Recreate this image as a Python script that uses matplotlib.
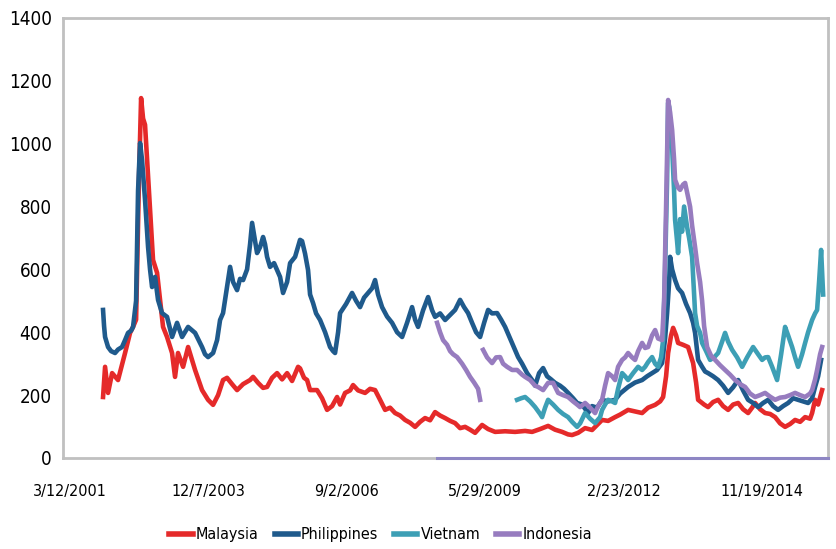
import numpy as np
import pandas as pd
import matplotlib
matplotlib.use("Agg")
import matplotlib.pyplot as plt

plt.rcParams['font.family'] = ['DejaVu Sans']
plt.rcParams['font.stretch'] = 'condensed'

# dates as decimal years
mal_year = [2001.854, 2001.894, 2001.953, 2002.033, 2002.150, 2002.289, 2002.388, 2002.447, 2002.507, 2002.566,
            2002.606, 2002.645, 2002.684, 2002.724, 2002.783, 2002.842, 2002.922, 2002.981, 2003.040, 2003.119,
            2003.218, 2003.277, 2003.336, 2003.436, 2003.535, 2003.673, 2003.811, 2003.930, 2004.029, 2004.128,
            2004.226, 2004.305, 2004.404, 2004.503, 2004.622, 2004.760, 2004.820, 2004.918, 2005.017, 2005.096,
            2005.195, 2005.294, 2005.393, 2005.492, 2005.590, 2005.709, 2005.748, 2005.827, 2005.887, 2005.946,
            2006.084, 2006.183, 2006.282, 2006.381, 2006.480, 2006.539, 2006.638, 2006.737, 2006.796, 2006.895,
            2007.033, 2007.132, 2007.231, 2007.330, 2007.429, 2007.527, 2007.626, 2007.725, 2007.824, 2007.923,
            2008.022, 2008.121, 2008.219, 2008.318, 2008.417, 2008.516, 2008.615, 2008.714, 2008.812, 2008.911,
            2009.010, 2009.109, 2009.208, 2009.346, 2009.465, 2009.603, 2009.801, 2009.998, 2010.196, 2010.335,
            2010.493, 2010.651, 2010.789, 2010.928, 2011.046, 2011.125, 2011.244, 2011.382, 2011.520, 2011.619,
            2011.718, 2011.837, 2011.975, 2012.074, 2012.232, 2012.370, 2012.509, 2012.627, 2012.766, 2012.865,
            2012.924, 2012.983, 2013.023, 2013.082, 2013.122, 2013.181, 2013.220, 2013.319, 2013.418, 2013.517,
            2013.576, 2013.616, 2013.734, 2013.813, 2013.912, 2014.011, 2014.110, 2014.209, 2014.308, 2014.407,
            2014.505, 2014.604, 2014.683, 2014.742, 2014.841, 2014.940, 2015.039, 2015.138, 2015.237, 2015.335,
            2015.434, 2015.533, 2015.632, 2015.731, 2015.829, 2015.869, 2015.928, 2015.988, 2016.067]
mal_val = [194, 290, 207, 270, 248, 334, 398, 417, 440, 900,
           1145, 1080, 1060, 950, 789, 630, 589, 503, 417, 385,
           334, 258, 334, 290, 353, 280, 216, 185, 169, 200,
           248, 255, 235, 216, 235, 248, 258, 239, 223, 226,
           255, 270, 250, 270, 245, 290, 285, 255, 248, 216,
           216, 190, 153, 165, 194, 170, 207, 215, 232, 215,
           207, 220, 216, 185, 153, 160, 143, 135, 121, 112,
           99, 115, 127, 120, 146, 135, 127, 118, 111, 95,
           99, 90, 80, 105, 92, 83, 85, 83, 86, 83,
           92, 102, 90, 83, 75, 73, 80, 95, 89, 105,
           121, 118, 130, 138, 153, 148, 143, 160, 169, 180,
           194, 260, 334, 390, 414, 390, 366, 360, 353, 302,
           240, 185, 170, 162, 178, 185, 165, 153, 170, 175,
           155, 143, 160, 175, 155, 143, 140, 130, 110, 99,
           108, 121, 115, 130, 125, 143, 185, 170, 216]

phl_year = [2001.854, 2001.874, 2001.894, 2001.953, 2002.013, 2002.091, 2002.150, 2002.229, 2002.289, 2002.348,
            2002.408, 2002.447, 2002.507, 2002.546, 2002.586, 2002.625, 2002.684, 2002.744, 2002.783, 2002.823,
            2002.882, 2002.941, 2003.020, 2003.119, 2003.218, 2003.317, 2003.416, 2003.535, 2003.673, 2003.811,
            2003.870, 2003.930, 2004.029, 2004.108, 2004.167, 2004.226, 2004.305, 2004.365, 2004.424, 2004.503,
            2004.562, 2004.622, 2004.701, 2004.760, 2004.800, 2004.859, 2004.898, 2004.958, 2005.017, 2005.056,
            2005.096, 2005.155, 2005.234, 2005.294, 2005.353, 2005.412, 2005.492, 2005.551, 2005.650, 2005.748,
            2005.788, 2005.847, 2005.906, 2005.946, 2006.005, 2006.065, 2006.144, 2006.243, 2006.341, 2006.401,
            2006.440, 2006.500, 2006.539, 2006.658, 2006.776, 2006.856, 2006.934, 2007.013, 2007.093, 2007.172,
            2007.231, 2007.290, 2007.369, 2007.468, 2007.567, 2007.666, 2007.765, 2007.863, 2007.962, 2008.022,
            2008.081, 2008.180, 2008.279, 2008.358, 2008.417, 2008.516, 2008.615, 2008.714, 2008.812, 2008.872,
            2008.911, 2008.990, 2009.069, 2009.148, 2009.228, 2009.307, 2009.386, 2009.465, 2009.544, 2009.643,
            2009.722, 2009.801, 2009.900, 2009.979, 2010.058, 2010.137, 2010.236, 2010.335, 2010.394, 2010.473,
            2010.552, 2010.631, 2010.710, 2010.789, 2010.888, 2010.967, 2011.046, 2011.145, 2011.224, 2011.323,
            2011.441, 2011.520, 2011.619, 2011.718, 2011.837, 2011.975, 2012.074, 2012.232, 2012.370, 2012.509,
            2012.608, 2012.706, 2012.805, 2012.904, 2012.963, 2013.003, 2013.043, 2013.062, 2013.102, 2013.161,
            2013.220, 2013.299, 2013.378, 2013.458, 2013.517, 2013.556, 2013.616, 2013.695, 2013.754, 2013.813,
            2013.912, 2014.011, 2014.110, 2014.209, 2014.308, 2014.407, 2014.505, 2014.604, 2014.703, 2014.802,
            2014.901, 2015.000, 2015.098, 2015.197, 2015.296, 2015.395, 2015.494, 2015.592, 2015.691, 2015.790,
            2015.869, 2015.928, 2015.988, 2016.047]
phl_val = [471, 420, 385, 353, 340, 334, 345, 353, 375, 398,
           405, 417, 500, 850, 1002, 948, 821, 671, 600, 544,
           576, 503, 461, 449, 385, 430, 385, 417, 398, 353,
           330, 321, 334, 375, 439, 461, 544, 608, 560, 534,
           570, 566, 600, 680, 748, 690, 652, 671, 703, 680,
           640, 608, 620, 598, 576, 525, 560, 620, 640, 694,
           690, 650, 598, 520, 493, 460, 439, 400, 353, 340,
           334, 400, 461, 490, 525, 500, 480, 510, 525, 540,
           566, 520, 480, 450, 430, 400, 385, 430, 480, 440,
           417, 470, 512, 470, 449, 460, 439, 455, 471, 490,
           503, 480, 461, 430, 400, 385, 430, 471, 460, 461,
           440, 417, 380, 350, 321, 300, 270, 248, 230, 270,
           286, 260, 250, 239, 230, 220, 207, 190, 175, 170,
           143, 165, 160, 185, 180, 185, 205, 226, 240, 248,
           260, 270, 280, 302, 380, 461, 560, 640, 600, 566,
           540, 525, 490, 461, 430, 398, 312, 290, 275, 270,
           260, 248, 230, 207, 225, 248, 215, 185, 175, 162,
           175, 185, 165, 153, 165, 175, 190, 185, 180, 175,
           190, 226, 260, 312]

vnm_year = [2010.038, 2010.117, 2010.196, 2010.295, 2010.394, 2010.493, 2010.532, 2010.591, 2010.651, 2010.750,
            2010.849, 2010.947, 2011.046, 2011.125, 2011.224, 2011.283, 2011.382, 2011.481, 2011.580, 2011.679,
            2011.718, 2011.777, 2011.837, 2011.916, 2011.975, 2012.034, 2012.114, 2012.173, 2012.232, 2012.331,
            2012.430, 2012.509, 2012.568, 2012.627, 2012.706, 2012.766, 2012.825, 2012.884, 2012.924, 2012.963,
            2013.003, 2013.023, 2013.043, 2013.062, 2013.102, 2013.141, 2013.161, 2013.200, 2013.220, 2013.260,
            2013.299, 2013.339, 2013.398, 2013.438, 2013.497, 2013.537, 2013.556, 2013.596, 2013.655, 2013.695,
            2013.774, 2013.853, 2013.932, 2014.011, 2014.090, 2014.149, 2014.209, 2014.288, 2014.387, 2014.486,
            2014.584, 2014.703, 2014.802, 2014.881, 2014.940, 2015.000, 2015.079, 2015.177, 2015.257, 2015.335,
            2015.395, 2015.474, 2015.533, 2015.592, 2015.671, 2015.731, 2015.790, 2015.869, 2015.928, 2015.968,
            2016.007, 2016.047, 2016.087]
vnm_val = [185, 190, 194, 180, 162, 140, 130, 160, 185, 170,
           153, 140, 130, 115, 99, 110, 143, 125, 111, 130,
           153, 170, 185, 180, 175, 220, 270, 260, 248, 270,
           290, 280, 290, 305, 321, 300, 290, 320, 375, 600,
           885, 1130, 1117, 1050, 989, 850, 757, 690, 652, 760,
           720, 800, 735, 700, 640, 520, 461, 420, 398, 366,
           340, 312, 320, 334, 370, 398, 370, 344, 320, 290,
           320, 353, 330, 312, 320, 321, 290, 248, 330, 417,
           390, 353, 320, 290, 330, 366, 400, 439, 460, 471,
           560, 662, 520]

# NaN marks the short gap in the Indonesia series
idn_year = [2008.457, 2008.516, 2008.575, 2008.654, 2008.714, 2008.773, 2008.852, 2008.951, 2009.030, 2009.109,
            2009.188, 2009.267, 2009.307, 2009.337, 2009.366, 2009.445, 2009.544, 2009.623, 2009.702, 2009.761,
            2009.840, 2009.939, 2010.038, 2010.137, 2010.196, 2010.295, 2010.394, 2010.453, 2010.552, 2010.651,
            2010.750, 2010.849, 2010.947, 2011.046, 2011.145, 2011.224, 2011.283, 2011.382, 2011.481, 2011.580,
            2011.639, 2011.718, 2011.777, 2011.837, 2011.916, 2011.975, 2012.034, 2012.114, 2012.173, 2012.232,
            2012.311, 2012.370, 2012.430, 2012.509, 2012.568, 2012.627, 2012.706, 2012.766, 2012.825, 2012.904,
            2012.944, 2012.983, 2013.023, 2013.062, 2013.102, 2013.141, 2013.161, 2013.220, 2013.260, 2013.319,
            2013.359, 2013.418, 2013.458, 2013.497, 2013.556, 2013.596, 2013.655, 2013.695, 2013.734, 2013.794,
            2013.873, 2013.952, 2014.051, 2014.149, 2014.248, 2014.347, 2014.446, 2014.545, 2014.644, 2014.742,
            2014.841, 2014.940, 2015.039, 2015.138, 2015.237, 2015.335, 2015.434, 2015.533, 2015.632, 2015.731,
            2015.829, 2015.869, 2015.928, 2015.968, 2016.027, 2016.067]
idn_val = [430, 400, 375, 360, 340, 330, 321, 300, 280, 258,
           240, 220, 185, np.nan, 344, 320, 302, 320, 321, 300,
           290, 280, 280, 265, 258, 248, 230, 226, 216, 239,
           239, 207, 200, 194, 180, 170, 162, 175, 160, 143,
           165, 185, 230, 270, 260, 248, 290, 312, 320, 334,
           320, 312, 340, 366, 350, 353, 390, 407, 380, 375,
           500, 800, 1139, 1100, 1044, 950, 885, 860, 853, 870,
           875, 830, 799, 740, 671, 620, 560, 500, 420, 353,
           325, 312, 295, 280, 265, 248, 235, 226, 205, 194,
           200, 207, 195, 185, 192, 194, 200, 207, 200, 194,
           205, 216, 250, 280, 330, 353]

tick_dates = ['2001-03-12', '2003-12-07', '2006-09-02', '2009-05-29', '2012-02-23', '2014-11-19']
tick_labels = ['3/12/2001', '12/7/2003', '9/2/2006', '5/29/2009', '2/23/2012', '11/19/2014']


def to_dates(years):
    years = np.asarray(years, dtype=float)
    return pd.to_datetime('2001-01-01') + pd.to_timedelta((years - 2001) * 365.25, unit='D')


fig = plt.figure(figsize=(8.37, 5.49), dpi=100)
ax = fig.add_axes([0.0753, 0.1658, 0.914, 0.8015])

series = [
    ("Malaysia", mal_year, mal_val, "#e52a2a"),
    ("Philippines", phl_year, phl_val, "#1f5a8c"),
    ("Vietnam", vnm_year, vnm_val, "#3d9fb5"),
    ("Indonesia", idn_year, idn_val, "#977cbf"),
]

xmin = pd.Timestamp('2001-01-24')
xmax = pd.Timestamp('2016-03-09')

for name, yrs, vals, col in series:
    ax.plot(to_dates(yrs), vals, color=col, lw=3.3, label=name)

# purple line lying along the axis from the start of the Indonesia series
ax.plot([to_dates(idn_year)[0], xmax], [0, 0], color="#8e86c4", lw=2.2, clip_on=False, zorder=5)

ax.set_xlim(xmin, xmax)
ax.set_ylim(0, 1400)
ax.set_yticks(range(0, 1401, 200))
ax.set_xticks(pd.to_datetime(tick_dates))
ax.set_xticklabels(tick_labels)
ax.tick_params(axis='both', length=0, colors='black')
ax.tick_params(axis='x', pad=19, labelsize=11.5)
ax.tick_params(axis='y', pad=8, labelsize=13.5)

for sp in ax.spines.values():
    sp.set_color('#c0c0c0')
    sp.set_linewidth(2)

leg = fig.legend(loc='center', bbox_to_anchor=(0.455, 0.026), ncol=4, frameon=False,
                 fontsize=11.5, handlelength=1.45, handletextpad=0.2, columnspacing=1.0)
for line in leg.get_lines():
    line.set_linewidth(4)

fig.savefig("out.png", dpi=100)
